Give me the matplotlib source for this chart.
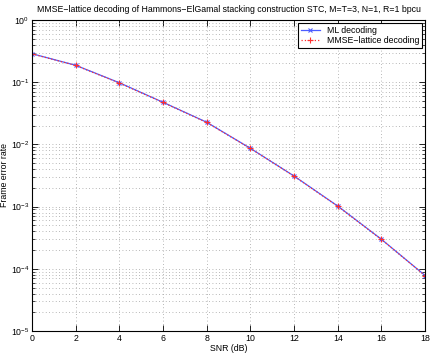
import numpy as np
import matplotlib
matplotlib.use("Agg")
import matplotlib.pyplot as plt
from matplotlib.ticker import LogLocator, NullFormatter

plt.rcParams['font.family'] = ['Liberation Sans', 'DejaVu Sans']
plt.rcParams['font.size'] = 6.3

snr = [0, 2, 4, 6, 8, 10, 12, 14, 16, 18]
fer_ml = [0.287, 0.187, 0.098, 0.0475, 0.0227, 0.00865, 0.0031, 0.00102, 0.000298, 0.000078]
fer_mmse = [0.285, 0.186, 0.097, 0.0472, 0.0225, 0.0086, 0.00308, 0.00101, 0.000296, 0.0000775]

fig = plt.figure(figsize=(4.36, 3.54), dpi=100)
ax = fig.add_axes([0.0734, 0.065, 0.9016, 0.8785])

ax.semilogy(snr, fer_ml, color='#4c5cff', lw=0.9, marker='x', ms=3.5, mew=0.8,
            label='ML decoding')
ax.semilogy(snr, fer_mmse, color='#ff3030', lw=0.9, ls=':', marker='+', ms=4.5, mew=0.8,
            label='MMSE\u2212lattice decoding')

ax.set_xlim(0, 18)
ax.set_ylim(1e-5, 1)
ax.set_xticks(range(0, 19, 2))
ax.yaxis.set_major_locator(LogLocator(base=10, numticks=10))
ax.yaxis.set_minor_locator(LogLocator(base=10, subs=np.arange(2, 10), numticks=10))
ax.yaxis.set_minor_formatter(NullFormatter())

ax.grid(True, which='major', ls=(0, (1, 3)), color='#a0a0a0', lw=0.6)
ax.grid(True, which='minor', axis='y', ls=(0, (1, 3)), color='#a0a0a0', lw=0.6)
ax.tick_params(which='both', direction='in', top=True, right=True, pad=2)
ax.tick_params(which='major', length=4, width=0.6)
ax.tick_params(which='minor', length=2, width=0.5)
for s in ax.spines.values():
    s.set_linewidth(0.8)

ax.set_xlabel('SNR (dB)', labelpad=1)
ax.set_ylabel('Frame error rate', labelpad=1)
ax.set_title('MMSE\u2212lattice decoding of Hammons\u2212ElGamal stacking construction STC, '
             'M=T=3, N=1, R=1 bpcu', fontsize=6.3, pad=6)

leg = ax.legend(loc='upper right', fancybox=False, edgecolor='black', framealpha=1,
                borderpad=0.3, handlelength=2.2, labelspacing=0.2, borderaxespad=0.35)
leg.get_frame().set_linewidth(0.8)

fig.savefig('out.png', dpi=100)
